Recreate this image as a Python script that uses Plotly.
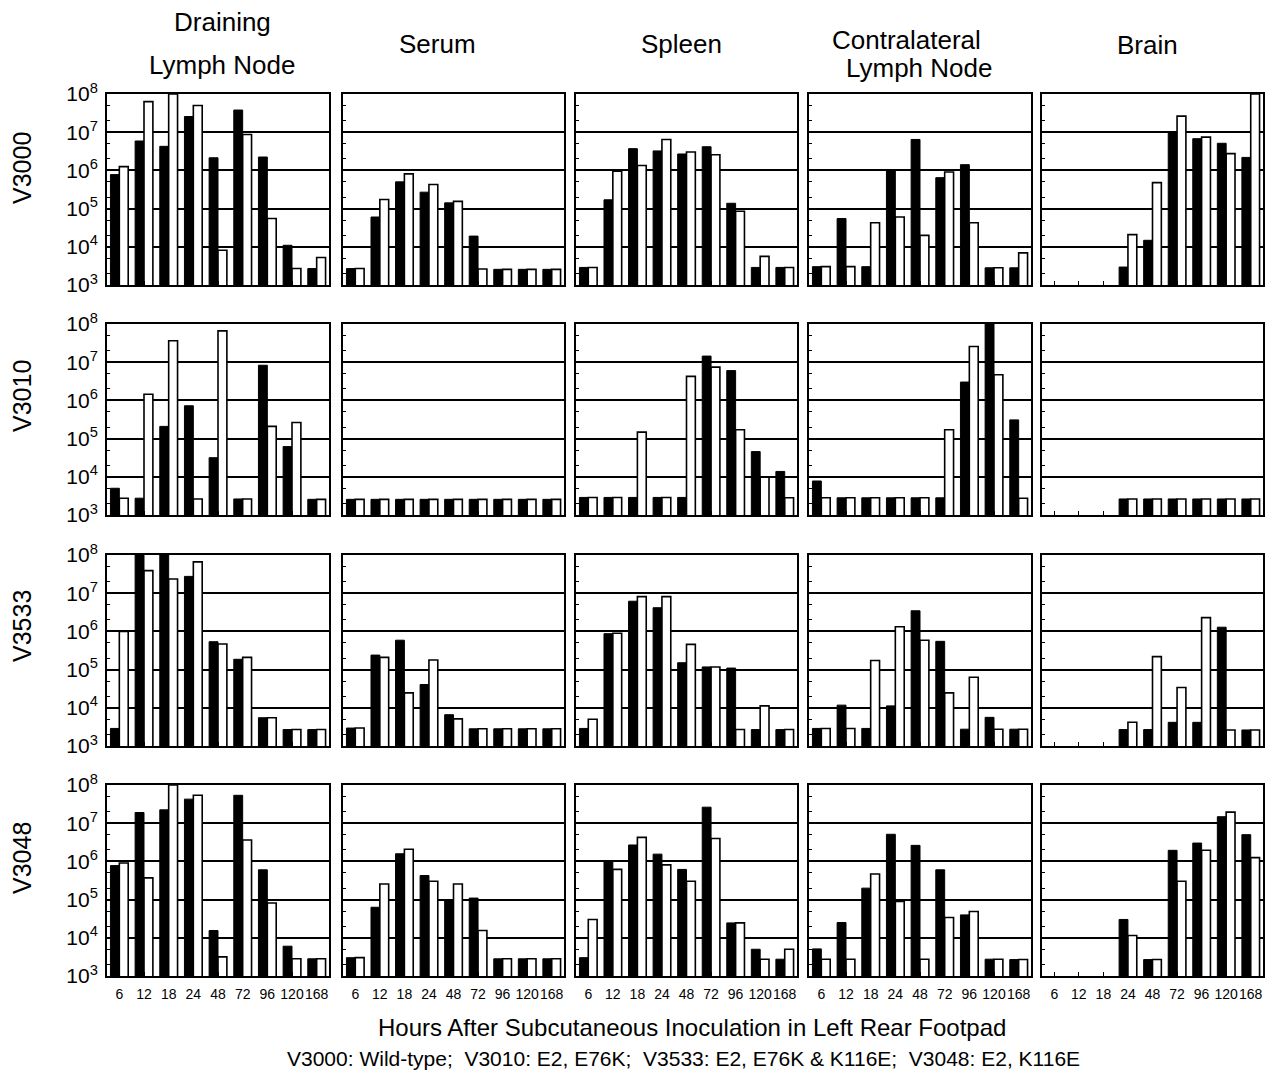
import plotly.graph_objects as go
from plotly.subplots import make_subplots

# ---------------- data (log10 titre) ----------------
hours = ["6", "12", "18", "24", "48", "72", "96", "120", "168"]
tissues = ["Draining Lymph Node", "Serum", "Spleen", "Contralateral Lymph Node", "Brain"]
viruses = ["V3000", "V3010", "V3533", "V3048"]
y_tick_exponents = [3, 4, 5, 6, 7, 8]

# V3000 (row 1)  _b = black bars, _w = white bars
V3000_DLN_b = [5.89, 6.77, 6.63, 7.41, 6.33, 7.58, 6.35, 4.04, 3.43]
V3000_DLN_w = [6.10, 7.80, 8.00, 7.70, 3.91, 6.94, 4.74, 3.43, 3.72]
V3000_SER_b = [3.43, 4.78, 5.70, 5.43, 5.15, 4.28, 3.41, 3.41, 3.41]
V3000_SER_w = [3.43, 5.24, 5.91, 5.63, 5.19, 3.42, 3.41, 3.41, 3.41]
V3000_SPL_b = [3.46, 5.23, 6.57, 6.51, 6.43, 6.62, 5.14, 3.46, 3.46]
V3000_SPL_w = [3.46, 5.98, 6.13, 6.81, 6.48, 6.41, 4.93, 3.75, 3.46]
V3000_CLN_b = [3.48, 4.74, 3.48, 6.02, 6.81, 5.81, 6.15, 3.45, 3.45]
V3000_CLN_w = [3.48, 3.48, 4.63, 4.78, 4.30, 5.96, 4.63, 3.45, 3.84]
V3000_BRN_b = [None, None, None, 3.47, 4.17, 7.00, 6.83, 6.71, 6.34]
V3000_BRN_w = [None, None, None, 4.32, 5.68, 7.42, 6.87, 6.44, 8.00]

# V3010 (row 2)
V3010_DLN_b = [3.70, 3.44, 5.32, 5.86, 4.50, 3.42, 6.92, 4.79, 3.41]
V3010_DLN_w = [3.44, 6.16, 7.56, 3.42, 7.82, 3.42, 5.32, 5.42, 3.41]
V3010_SER_b = [3.41, 3.41, 3.41, 3.41, 3.41, 3.41, 3.41, 3.41, 3.41]
V3010_SER_w = [3.41, 3.41, 3.41, 3.41, 3.41, 3.41, 3.41, 3.41, 3.41]
V3010_SPL_b = [3.46, 3.46, 3.46, 3.46, 3.46, 7.16, 6.78, 4.66, 4.14]
V3010_SPL_w = [3.46, 3.46, 5.17, 3.46, 6.63, 6.87, 5.23, 3.99, 3.45]
V3010_CLN_b = [3.89, 3.45, 3.45, 3.45, 3.45, 3.45, 6.48, 8.00, 5.49]
V3010_CLN_w = [3.45, 3.45, 3.45, 3.45, 3.45, 5.23, 7.41, 6.67, 3.44]
V3010_BRN_b = [None, None, None, 3.42, 3.42, 3.42, 3.42, 3.42, 3.42]
V3010_BRN_w = [None, None, None, 3.42, 3.42, 3.42, 3.42, 3.42, 3.42]

# V3533 (row 3)
V3533_DLN_b = [3.46, 8.00, 8.00, 7.44, 5.73, 5.27, 3.74, 3.43, 3.43]
V3533_DLN_w = [6.00, 7.59, 7.37, 7.82, 5.67, 5.32, 3.74, 3.43, 3.43]
V3533_SER_b = [3.47, 5.38, 5.77, 4.61, 3.82, 3.45, 3.45, 3.45, 3.45]
V3533_SER_w = [3.47, 5.32, 4.39, 5.25, 3.71, 3.45, 3.45, 3.45, 3.45]
V3533_SPL_b = [3.46, 5.94, 6.79, 6.62, 5.18, 5.07, 5.04, 3.43, 3.43]
V3533_SPL_w = [3.70, 5.95, 6.91, 6.91, 5.66, 5.07, 3.43, 4.05, 3.43]
V3533_CLN_b = [3.46, 4.07, 3.46, 4.05, 6.54, 5.74, 3.44, 3.75, 3.44]
V3533_CLN_w = [3.46, 3.46, 5.24, 6.12, 5.77, 4.39, 4.80, 3.44, 3.44]
V3533_BRN_b = [None, None, None, 3.43, 3.43, 3.62, 3.62, 6.11, 3.42]
V3533_BRN_w = [None, None, None, 3.62, 5.34, 4.53, 6.36, 3.42, 3.42]

# V3048 (row 4)
V3048_DLN_b = [5.89, 7.28, 7.35, 7.63, 4.19, 7.73, 5.78, 3.78, 3.45]
V3048_DLN_w = [5.96, 5.57, 8.00, 7.73, 3.50, 6.56, 4.91, 3.45, 3.45]
V3048_SER_b = [3.48, 4.80, 6.20, 5.63, 5.00, 5.04, 3.45, 3.45, 3.45]
V3048_SER_w = [3.48, 5.41, 6.32, 5.48, 5.41, 4.19, 3.45, 3.45, 3.45]
V3048_SPL_b = [3.48, 6.00, 6.43, 6.19, 5.79, 7.42, 4.39, 3.70, 3.44]
V3048_SPL_w = [4.48, 5.79, 6.63, 5.91, 5.48, 6.60, 4.39, 3.44, 3.70]
V3048_CLN_b = [3.71, 4.40, 5.30, 6.71, 6.42, 5.78, 4.60, 3.44, 3.43]
V3048_CLN_w = [3.44, 3.44, 5.67, 4.95, 3.44, 4.53, 4.69, 3.44, 3.43]
V3048_BRN_b = [None, None, None, 4.48, 3.43, 6.29, 6.48, 7.17, 6.70]
V3048_BRN_w = [None, None, None, 4.06, 3.43, 5.48, 6.29, 7.29, 6.10]

table = [
    [(V3000_DLN_b, V3000_DLN_w), (V3000_SER_b, V3000_SER_w), (V3000_SPL_b, V3000_SPL_w),
     (V3000_CLN_b, V3000_CLN_w), (V3000_BRN_b, V3000_BRN_w)],
    [(V3010_DLN_b, V3010_DLN_w), (V3010_SER_b, V3010_SER_w), (V3010_SPL_b, V3010_SPL_w),
     (V3010_CLN_b, V3010_CLN_w), (V3010_BRN_b, V3010_BRN_w)],
    [(V3533_DLN_b, V3533_DLN_w), (V3533_SER_b, V3533_SER_w), (V3533_SPL_b, V3533_SPL_w),
     (V3533_CLN_b, V3533_CLN_w), (V3533_BRN_b, V3533_BRN_w)],
    [(V3048_DLN_b, V3048_DLN_w), (V3048_SER_b, V3048_SER_w), (V3048_SPL_b, V3048_SPL_w),
     (V3048_CLN_b, V3048_CLN_w), (V3048_BRN_b, V3048_BRN_w)],
]


def titre(logs):
    return [None if v is None else 10 ** v for v in logs]


# ---------------- layout geometry (page pixels; page body has 8px margin) ----------------
OFF = 8
W, H = 1273 - 2 * OFF, 1075 - OFF
col_px = [(107, 329), (343, 564), (576, 797), (809, 1031), (1042, 1263)]
row_px = [(94, 285), (324, 515), (555, 746), (785, 976)]
FONT = "Liberation Sans, Arial, sans-serif"


def px(xp):
    return (xp - OFF) / W


def py(yp):
    return 1 - (yp - OFF) / H


fig = make_subplots(rows=4, cols=5)

for r in range(4):
    for c in range(5):
        blk, wht = table[r][c]
        fig.add_trace(go.Bar(x=hours, y=titre(blk), marker=dict(color="black", line=dict(color="black", width=1)),
                             showlegend=False, hoverinfo="skip"), row=r + 1, col=c + 1)
        fig.add_trace(go.Bar(x=hours, y=titre(wht), marker=dict(color="white", line=dict(color="black", width=1.6)),
                             showlegend=False, hoverinfo="skip"), row=r + 1, col=c + 1)
        idx = r * 5 + c + 1
        xs = "xaxis" if idx == 1 else f"xaxis{idx}"
        ys = "yaxis" if idx == 1 else f"yaxis{idx}"
        x0, x1 = col_px[c]
        y0, y1 = row_px[r]
        fig.layout[xs].update(
            domain=[px(x0), px(x1)], type="category", categoryorder="array", categoryarray=hours,
            showline=True, mirror=True, linecolor="black", linewidth=2,
            ticks="inside", ticklen=4, tickcolor="black", tickwidth=1,
            showticklabels=(r == 3), tickangle=0, ticklabelstandoff=4,
            tickfont=dict(family=FONT, size=14, color="black"),
            showgrid=False, zeroline=False, automargin=False,
        )
        fig.layout[ys].update(
            domain=[py(y1), py(y0)], type="log", range=[3, 8],
            tickvals=[10 ** e for e in y_tick_exponents],
            ticktext=[f"10<sup>{e}</sup>" for e in y_tick_exponents],
            showticklabels=(c == 0), tickfont=dict(family=FONT, size=21, color="black"),
            ticklabelstandoff=3,
            showline=True, mirror=True, linecolor="black", linewidth=2,
            showgrid=True, gridcolor="black", gridwidth=1.8, zeroline=False,
            ticks="inside", ticklen=4, tickcolor="black",
            minor=dict(ticks="inside", ticklen=3, tickcolor="black", tickwidth=1, showgrid=False),
            automargin=False,
        )

annotations = []
# column titles
title_specs = [
    ("Draining", 222, 22), ("Lymph Node", 222, 65),
    ("Serum", 437, 44), ("Spleen", 681, 44),
    ("Contralateral", 906, 40), ("Lymph Node", 919, 68),
    ("Brain", 1147, 45),
]
for txt, xp, yp in title_specs:
    annotations.append(dict(text=txt, x=px(xp), y=py(yp), xref="paper", yref="paper",
                            showarrow=False, xanchor="center", yanchor="middle",
                            font=dict(family=FONT, size=26, color="black")))
# row labels
row_label_y = [168, 396, 626, 858]
for v, yp in zip(viruses, row_label_y):
    annotations.append(dict(text=v, x=px(22), y=py(yp), xref="paper", yref="paper",
                            showarrow=False, textangle=-90, xanchor="center", yanchor="middle",
                            font=dict(family=FONT, size=25, color="black")))
# bottom captions
annotations.append(dict(text="Hours After Subcutaneous Inoculation in Left Rear Footpad",
                        x=px(692), y=py(1027), xref="paper", yref="paper", showarrow=False,
                        xanchor="center", yanchor="middle", font=dict(family=FONT, size=24, color="black")))
annotations.append(dict(text="V3000: Wild-type;  V3010: E2, E76K;  V3533: E2, E76K &amp; K116E;  V3048: E2, K116E",
                        x=px(684), y=py(1058), xref="paper", yref="paper", showarrow=False,
                        xanchor="center", yanchor="middle", font=dict(family=FONT, size=21, color="black")))

fig.update_layout(
    width=W, height=H, margin=dict(l=0, r=0, t=0, b=0, pad=0),
    paper_bgcolor="white", plot_bgcolor="white",
    barmode="group", bargap=0.28, bargroupgap=0.0,
    annotations=annotations, font=dict(family=FONT, color="black"),
)

fig.write_html("out.html")
